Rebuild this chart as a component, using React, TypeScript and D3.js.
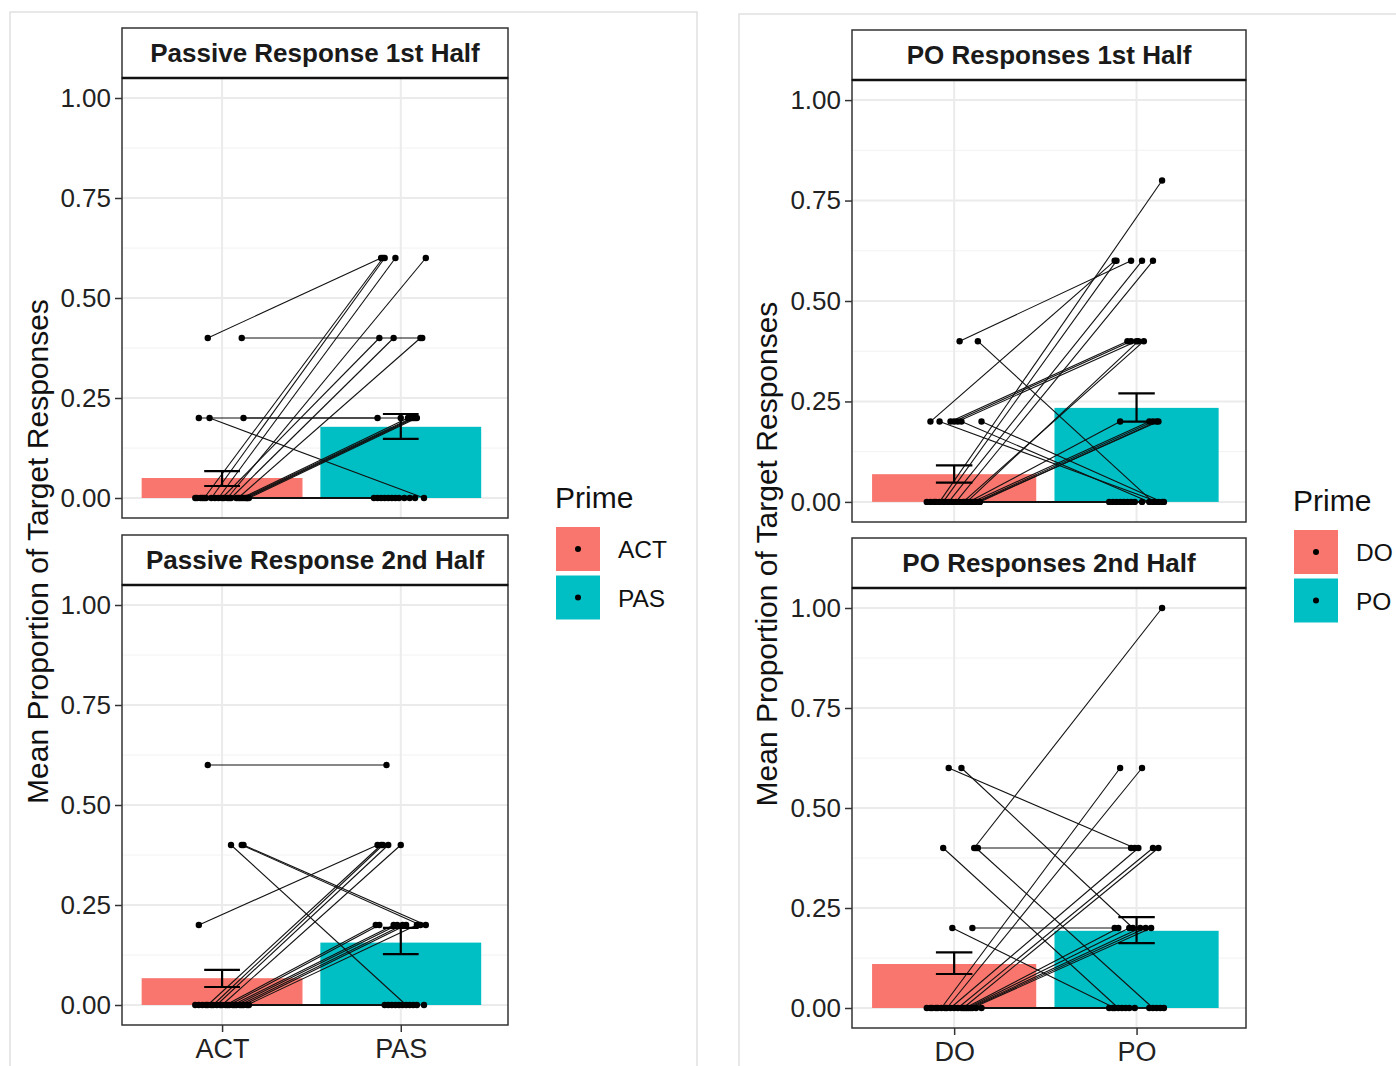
import React, { useRef, useEffect } from 'react';
import * as d3 from 'd3';

const passivePrimes = ['ACT', 'PAS'];
const poPrimes = ['DO', 'PO'];
const yTicks = [0, 0.25, 0.5, 0.75, 1];
const yMinor = [0.125, 0.375, 0.625, 0.875];
const primeColors = ['#F8766D', '#00BFC4'];

// each participant: [value prime 1, jitter prime 1, value prime 2, jitter prime 2]
const passive1st = [
  [0.4, -0.08, 0.6, -0.11], [0.4, 0.11, 0.4, 0.12], [0.2, -0.13, 0.2, -0.13],
  [0.2, -0.07, 0, 0.13], [0.2, 0.12, 0.2, 0.0], [0, -0.1, 0.6, -0.1],
  [0, -0.06, 0.6, -0.09], [0, -0.02, 0.6, -0.03], [0, 0.03, 0.6, 0.14],
  [0, 0.0, 0.4, -0.12], [0, 0.05, 0.4, -0.04], [0, 0.09, 0.4, 0.11],
  [0, 0.11, 0.2, 0.04], [0, 0.12, 0.2, 0.06], [0, 0.13, 0.2, 0.07],
  [0, 0.14, 0.2, 0.08], [0, 0.15, 0.2, 0.09], [0, -0.15, 0, -0.15],
  [0, -0.14, 0, -0.13], [0, -0.12, 0, -0.11], [0, -0.11, 0, -0.09],
  [0, -0.09, 0, -0.07], [0, -0.04, 0, -0.05], [0, 0.01, 0, -0.03],
  [0, 0.04, 0, -0.01], [0, 0.08, 0, 0.02], [0, 0.1, 0, 0.05], [0, 0.14, 0, 0.08],
];
const passive2nd = [
  [0.6, -0.08, 0.6, -0.08], [0.4, 0.05, 0, 0.03], [0.4, 0.11, 0.2, 0.11],
  [0.4, 0.12, 0.2, 0.14], [0.2, -0.13, 0.4, -0.13], [0, -0.08, 0.4, -0.11],
  [0, -0.05, 0.4, -0.1], [0, -0.03, 0.4, -0.07], [0, 0.0, 0.4, 0.0],
  [0, 0.02, 0.2, -0.14], [0, 0.04, 0.2, -0.12], [0, 0.06, 0.2, -0.04],
  [0, 0.08, 0.2, -0.02], [0, 0.1, 0.2, 0.01], [0, 0.12, 0.2, 0.03],
  [0, 0.14, 0.2, 0.09], [0, -0.15, 0, -0.09], [0, -0.13, 0, -0.07],
  [0, -0.11, 0, -0.05], [0, -0.09, 0, -0.03], [0, -0.06, 0, -0.01],
  [0, -0.01, 0, 0.01], [0, 0.03, 0, 0.05], [0, 0.07, 0, 0.07],
  [0, 0.11, 0, 0.09], [0, 0.15, 0, 0.13],
];
const po1st = [
  [0.4, 0.03, 0.6, -0.03], [0.4, 0.13, 0, 0.09], [0.2, -0.13, 0.6, -0.12],
  [0.2, -0.08, 0, 0.12], [0.2, -0.02, 0.4, -0.05], [0.2, 0.0, 0.4, -0.03],
  [0.2, 0.02, 0.4, 0.0], [0.2, 0.04, 0, 0.07], [0.2, 0.15, 0, 0.14],
  [0, -0.08, 0.8, 0.14], [0, -0.06, 0.6, -0.11], [0, -0.03, 0.6, 0.03],
  [0, 0.01, 0.6, 0.09], [0, 0.05, 0.4, 0.04], [0, 0.07, 0.4, 0.01],
  [0, 0.08, 0.2, -0.09], [0, 0.1, 0.2, 0.07], [0, 0.12, 0.2, 0.09],
  [0, 0.13, 0.2, 0.12], [0, 0.14, 0.2, 0.11], [0, -0.15, 0, -0.15],
  [0, -0.13, 0, -0.13], [0, -0.11, 0, -0.11], [0, -0.1, 0, -0.09],
  [0, -0.05, 0, -0.07], [0, -0.01, 0, -0.05], [0, 0.03, 0, -0.03],
  [0, 0.06, 0, -0.01], [0, 0.09, 0, 0.03], [0, 0.11, 0, 0.1], [0, 0.14, 0, 0.15],
];
const po2nd = [
  [0.6, -0.03, 0.4, -0.01], [0.6, 0.04, 0.2, -0.02], [0.4, -0.06, 0, -0.1],
  [0.4, 0.11, 1.0, 0.14], [0.4, 0.13, 0.4, -0.03], [0.4, 0.12, 0, 0.09],
  [0.2, -0.01, 0, -0.12], [0.2, 0.1, 0.2, -0.12], [0, -0.07, 0.6, -0.09],
  [0, -0.04, 0.6, 0.03], [0, -0.02, 0.4, 0.01], [0, 0.02, 0.4, 0.09],
  [0, 0.05, 0.4, 0.12], [0, 0.06, 0.2, -0.1], [0, 0.07, 0.2, -0.04],
  [0, 0.08, 0.2, 0.02], [0, 0.09, 0.2, 0.05], [0, 0.1, 0.2, 0.08],
  [0, -0.15, 0, -0.15], [0, -0.13, 0, -0.13], [0, -0.12, 0, -0.08],
  [0, -0.09, 0, -0.06], [0, -0.05, 0, -0.04], [0, -0.1, 0, -0.01],
  [0, 0.0, 0, 0.07], [0, 0.04, 0, 0.11], [0, 0.12, 0, 0.15], [0, 0.15, 0, 0.13],
];

// bar means and error bar limits per prime
const passive1stMean = [0.05, 0.178];
const passive1stLow = [0.03, 0.148];
const passive1stHigh = [0.067, 0.21];
const passive2ndMean = [0.067, 0.156];
const passive2ndLow = [0.045, 0.127];
const passive2ndHigh = [0.088, 0.193];
const po1stMean = [0.069, 0.234];
const po1stLow = [0.048, 0.2];
const po1stHigh = [0.091, 0.27];
const po2ndMean = [0.11, 0.193];
const po2ndLow = [0.085, 0.162];
const po2ndHigh = [0.139, 0.227];

const FONT = 'Liberation Sans, Arial, Helvetica, sans-serif';

const figures = [
  {
    frame: [10, 12, 687],
    primes: passivePrimes,
    left: 122,
    right: 508,
    titleX: 48,
    legendX: 555,
    legendY: 527,
    panels: [
      { title: 'Passive Response 1st Half', top: 28, dataTop: 78, bottom: 518, pts: passive1st, mean: passive1stMean, lo: passive1stLow, hi: passive1stHigh },
      { title: 'Passive Response 2nd Half', top: 535, dataTop: 585, bottom: 1025, pts: passive2nd, mean: passive2ndMean, lo: passive2ndLow, hi: passive2ndHigh },
    ],
  },
  {
    frame: [739, 14, 700],
    primes: poPrimes,
    left: 852,
    right: 1246,
    titleX: 777,
    legendX: 1293,
    legendY: 530,
    panels: [
      { title: 'PO Responses 1st Half', top: 30, dataTop: 80, bottom: 522, pts: po1st, mean: po1stMean, lo: po1stLow, hi: po1stHigh },
      { title: 'PO Responses 2nd Half', top: 538, dataTop: 588, bottom: 1028, pts: po2nd, mean: po2ndMean, lo: po2ndLow, hi: po2ndHigh },
    ],
  },
];

const App = () => {
  const svgRef = useRef(null);

  useEffect(() => {
    const svg = d3.select(svgRef.current);
    svg.selectAll('*').remove();
    svg.append('rect').attr('width', 1396).attr('height', 1066).attr('fill', '#fff');

    figures.forEach((fig) => {
      svg.append('rect')
        .attr('x', fig.frame[0]).attr('y', fig.frame[1])
        .attr('width', fig.frame[2]).attr('height', 1100)
        .attr('fill', 'none').attr('stroke', '#d9d9d9').attr('stroke-width', 1.2);

      const x = d3.scaleLinear().domain([0.44, 2.6]).range([fig.left, fig.right]);

      fig.panels.forEach((p, pi) => {
        const y = d3.scaleLinear().domain([-0.05, 1.05]).range([p.bottom, p.dataTop]);
        const g = svg.append('g');

        // grid
        g.selectAll('.minor').data(yMinor).join('line')
          .attr('x1', fig.left).attr('x2', fig.right)
          .attr('y1', (d) => y(d)).attr('y2', (d) => y(d))
          .attr('stroke', '#f2f2f2').attr('stroke-width', 1);
        g.selectAll('.major').data(yTicks).join('line')
          .attr('x1', fig.left).attr('x2', fig.right)
          .attr('y1', (d) => y(d)).attr('y2', (d) => y(d))
          .attr('stroke', '#ebebeb').attr('stroke-width', 2);
        g.selectAll('.vgrid').data([1, 2]).join('line')
          .attr('x1', (d) => x(d)).attr('x2', (d) => x(d))
          .attr('y1', p.dataTop).attr('y2', p.bottom)
          .attr('stroke', '#ebebeb').attr('stroke-width', 2);

        // bars
        g.selectAll('.bar').data(p.mean).join('rect')
          .attr('x', (d, i) => x(i + 1 - 0.45))
          .attr('width', x(1.9) - x(1))
          .attr('y', (d) => y(d))
          .attr('height', (d) => y(0) - y(d))
          .attr('fill', (d, i) => primeColors[i]);

        // participant lines
        g.selectAll('.pair').data(p.pts).join('line')
          .attr('x1', (d) => x(1 + d[1])).attr('y1', (d) => y(d[0]))
          .attr('x2', (d) => x(2 + d[3])).attr('y2', (d) => y(d[2]))
          .attr('stroke', '#111').attr('stroke-width', 1.1);

        const dots = [];
        p.pts.forEach((d) => {
          dots.push([1 + d[1], d[0]]);
          dots.push([2 + d[3], d[2]]);
        });
        g.selectAll('.dot').data(dots).join('circle')
          .attr('cx', (d) => x(d[0])).attr('cy', (d) => y(d[1]))
          .attr('r', 3.2).attr('fill', '#000');

        // error bars
        const eb = g.selectAll('.eb').data(p.mean).join('g');
        eb.append('path')
          .attr('d', (d, i) => {
            const x0 = x(i + 0.9), x1 = x(i + 1.1), xc = x(i + 1);
            const yl = y(p.lo[i]), yh = y(p.hi[i]);
            return `M${x0},${yh}H${x1}M${xc},${yh}V${yl}M${x0},${yl}H${x1}`;
          })
          .attr('fill', 'none').attr('stroke', '#000').attr('stroke-width', 2.2);

        // panel border
        g.append('rect')
          .attr('x', fig.left).attr('y', p.dataTop)
          .attr('width', fig.right - fig.left).attr('height', p.bottom - p.dataTop)
          .attr('fill', 'none').attr('stroke', '#333').attr('stroke-width', 1.5);

        // strip
        g.append('rect')
          .attr('x', fig.left).attr('y', p.top)
          .attr('width', fig.right - fig.left).attr('height', p.dataTop - p.top)
          .attr('fill', '#fff').attr('stroke', '#333').attr('stroke-width', 1.5);
        g.append('line')
          .attr('x1', fig.left).attr('x2', fig.right)
          .attr('y1', p.dataTop).attr('y2', p.dataTop)
          .attr('stroke', '#111').attr('stroke-width', 2.5);
        g.append('text')
          .attr('x', (fig.left + fig.right) / 2).attr('y', (p.top + p.dataTop) / 2 + 9)
          .attr('text-anchor', 'middle')
          .attr('font-family', FONT).attr('font-weight', 'bold').attr('font-size', 26)
          .attr('fill', '#1a1a1a')
          .text(p.title);

        // y axis
        const yAxis = d3.axisLeft(y).tickValues(yTicks).tickFormat(d3.format('.2f'))
          .tickSize(7).tickPadding(4);
        const ya = g.append('g').attr('transform', `translate(${fig.left},0)`).call(yAxis);
        ya.select('.domain').remove();
        ya.selectAll('line').attr('stroke', '#333').attr('stroke-width', 1.5);
        ya.selectAll('text')
          .attr('font-family', FONT).attr('font-size', 26).attr('fill', '#222');

        // x axis on bottom panel
        if (pi === fig.panels.length - 1) {
          const xa = g.append('g').attr('transform', `translate(0,${p.bottom})`)
            .call(d3.axisBottom(x).tickValues([1, 2]).tickFormat((d) => fig.primes[d - 1])
              .tickSize(7).tickPadding(7));
          xa.select('.domain').remove();
          xa.selectAll('line').attr('stroke', '#333').attr('stroke-width', 1.5);
          xa.selectAll('text')
            .attr('font-family', FONT).attr('font-size', 27).attr('fill', '#222');
        }
      });

      // y axis title
      const midY = (fig.panels[0].dataTop + fig.panels[1].bottom) / 2;
      svg.append('text')
        .attr('transform', `translate(${fig.titleX},${midY}) rotate(-90)`)
        .attr('text-anchor', 'middle')
        .attr('font-family', FONT).attr('font-size', 30).attr('fill', '#111')
        .text('Mean Proportion of Target Responses');

      // legend
      const lg = svg.append('g');
      lg.append('text')
        .attr('x', fig.legendX).attr('y', fig.legendY - 19)
        .attr('font-family', FONT).attr('font-size', 30).attr('fill', '#111')
        .text('Prime');
      const keys = lg.selectAll('.key').data(fig.primes).join('g')
        .attr('transform', (d, i) => `translate(${fig.legendX + 1},${fig.legendY + i * 48.5})`);
      keys.append('rect').attr('width', 44).attr('height', 44)
        .attr('fill', (d, i) => primeColors[i]);
      keys.append('circle').attr('cx', 22).attr('cy', 22).attr('r', 3).attr('fill', '#000');
      keys.append('text')
        .attr('x', 62).attr('y', 31)
        .attr('font-family', FONT).attr('font-size', 24.5).attr('fill', '#111')
        .text((d) => d);
    });
  }, []);

  return (
    <svg ref={svgRef} width={1396} height={1066}
      style={{ position: 'absolute', left: 0, top: 0, display: 'block' }} />
  );
};

export default App;
